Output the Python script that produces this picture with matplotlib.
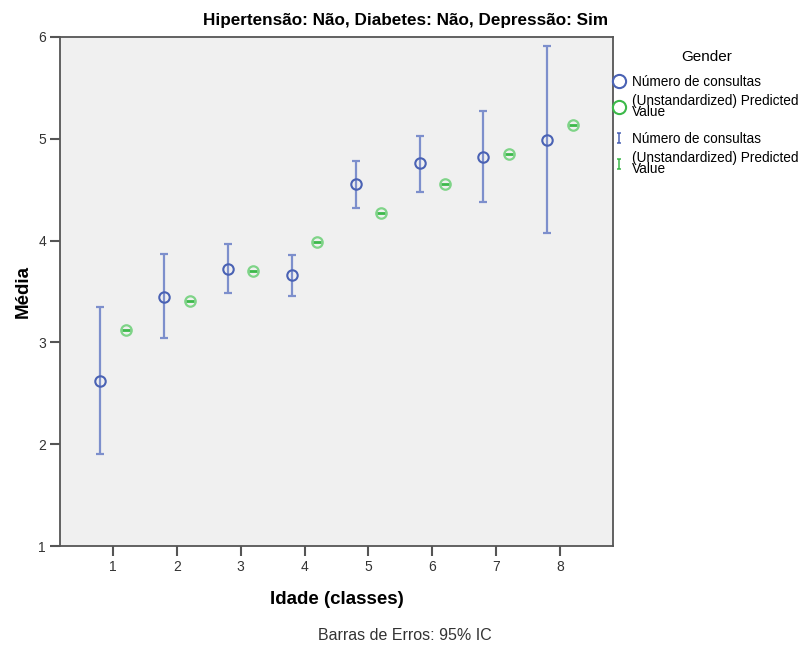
import numpy as np
import matplotlib.pyplot as plt
from matplotlib.lines import Line2D
from matplotlib.path import Path

plt.rcParams['font.family'] = ['Liberation Sans', 'DejaVu Sans']

# Idade (classes)
classes = [1, 2, 3, 4, 5, 6, 7, 8]
# Número de consultas: média e IC 95%
consultas_media = [2.62, 3.45, 3.72, 3.66, 4.56, 4.76, 4.82, 4.99]
consultas_inf = [1.90, 3.04, 3.49, 3.46, 4.32, 4.48, 4.38, 4.07]
consultas_sup = [3.35, 3.87, 3.97, 3.86, 4.78, 5.03, 5.27, 5.91]
# (Unstandardized) Predicted Value
previsto = [3.12, 3.41, 3.70, 3.99, 4.27, 4.56, 4.85, 5.14]

blue = '#4a62b4'
blue_bar = '#7d8fcc'
green = '#3cb94a'
green_light = '#7fd488'

x = np.array(classes)
m = np.array(consultas_media)
err = [m - np.array(consultas_inf), np.array(consultas_sup) - m]

fig = plt.figure(figsize=(8.08, 6.46), dpi=100)
ax = fig.add_axes([60/808, 100/646, 553/808, 509/646])
ax.set_facecolor('#f0f0f0')

xb = x - 0.2
xg = x + 0.2
ax.errorbar(xb, m, yerr=err, fmt='none', ecolor=blue_bar, elinewidth=1.6,
            capsize=2.8, capthick=1.6, zorder=2)
ax.plot(xb, m, 'o', ms=7.5, mfc='none', mec=blue, mew=1.5, zorder=3)
ax.plot(xg, previsto, 'o', ms=7.5, mfc='none', mec=green_light, mew=1.6, zorder=3)
ax.plot(xg, previsto, '_', ms=6, mec=green, mew=2, zorder=4)

ax.set_xlim(0.17, 8.83)
ax.set_ylim(1, 6)
ax.set_xticks(classes)
ax.set_yticks([1, 2, 3, 4, 5, 6])
ax.tick_params(direction='out', length=7, width=1.5, color='#555555',
               labelsize=10, labelcolor='#333333', pad=3)
for s in ax.spines.values():
    s.set_color('#555555')
    s.set_linewidth(1.3)

ax.set_xlabel('Idade (classes)', fontsize=13.5, fontweight='bold', labelpad=12)
ax.set_ylabel('Média', fontsize=13.5, fontweight='bold', labelpad=5)
fig.text(406/808, 1 - 20/646, 'Hipertensão: Não, Diabetes: Não, Depressão: Sim',
         ha='center', va='center', fontsize=12.3, fontweight='bold')
fig.text(405/808, 1 - 636/646, 'Barras de Erros: 95% IC', ha='center',
         va='center', fontsize=11.5, color='#333333')

# legenda: marcadores
lab_cons = 'Número de consultas'
lab_prev = '(Unstandardized) Predicted\nValue'
h1 = Line2D([], [], ls='none', marker='o', ms=9.5, mfc='none', mec=blue, mew=1.5)
h2 = Line2D([], [], ls='none', marker='o', ms=9.5, mfc='none', mec=green, mew=1.5)
leg1 = fig.legend([h1, h2], [lab_cons, lab_prev], title='Gender',
                  loc='upper left', bbox_to_anchor=(607/808, 1 - 43/646),
                  frameon=False, fontsize=9.8, title_fontsize=11,
                  handlelength=0.8, handletextpad=0.55, labelspacing=0.35,
                  borderpad=0)
leg1._legend_box.sep = 8
# legenda: barras de erro (marcador em forma de "I")
i_path = Path([(-0.5, -1), (0.5, -1), (0, -1), (0, 1), (-0.5, 1), (0.5, 1)],
              [Path.MOVETO, Path.LINETO, Path.MOVETO, Path.LINETO,
               Path.MOVETO, Path.LINETO])
h3 = Line2D([], [], ls='none', marker=i_path, ms=7, mec=blue, mew=1.1)
h4 = Line2D([], [], ls='none', marker=i_path, ms=7, mec=green, mew=1.1)
leg2 = fig.legend([h3, h4], [lab_cons, lab_prev], loc='upper left',
                  bbox_to_anchor=(607/808, 1 - 125/646), frameon=False,
                  fontsize=9.8, handlelength=0.8, handletextpad=0.55,
                  labelspacing=0.35, borderpad=0)
for leg in (leg1, leg2):
    for t in leg.get_texts():
        t.set_linespacing(0.75)

fig.savefig('out.png', dpi=100)
